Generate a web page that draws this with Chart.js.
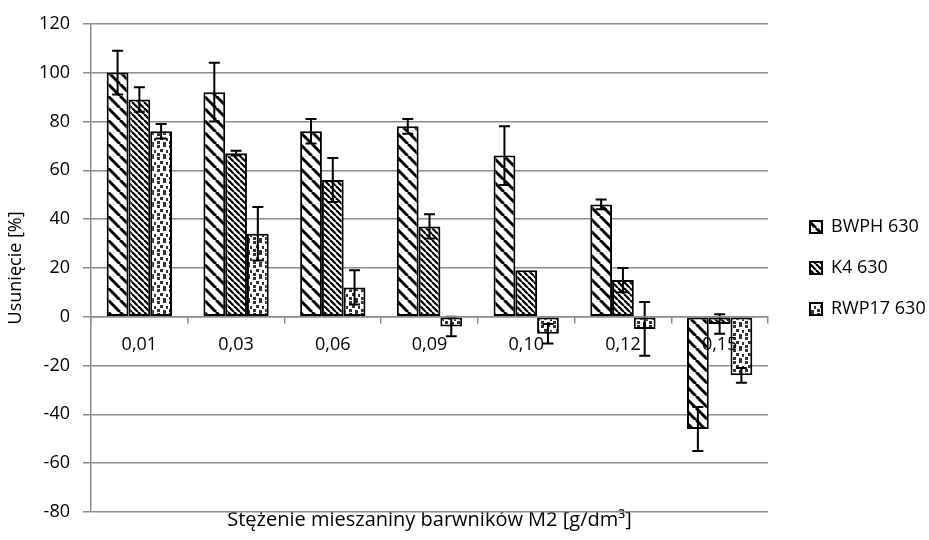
<!DOCTYPE html>
<html>
<head>
<meta charset="utf-8">
<script src="https://cdn.jsdelivr.net/npm/chart.js@4"></script>
<style>
  html, body { margin: 0; padding: 0; background: #fff; }
  #wrap { width: 929px; height: 540px; }
</style>
</head>
<body>
<div id="wrap"><canvas id="chart"></canvas></div>
<script>
// stężenie mieszaniny M2
const categories = ["0,01", "0,03", "0,06", "0,09", "0,10", "0,12", "0,15"];

const bwph = [100, 92, 76, 78, 66, 46, -46];
const bwphErr = [9, 12, 5, 3, 12, 2, 9];

const k4 = [89, 67, 56, 37, 19, 15, -3];
const k4Err = [5, 1, 9, 5, 0, 5, 4];

const rwp17 = [76, 34, 12, -4, -7, -5, -24];
const rwp17Err = [3, 11, 7, 4, 4, 11, 3];

const yMin = -80;
const yMax = 120;
const yStep = 20;

// fill patterns (Excel-like)
function diagonal(size, width) {
  const c = document.createElement("canvas");
  c.width = size;
  c.height = size;
  const g = c.getContext("2d");
  g.fillStyle = "#fff";
  g.fillRect(0, 0, size, size);
  g.strokeStyle = "#000";
  g.lineWidth = width;
  for (const k of [-size, 0, size]) {
    g.beginPath();
    g.moveTo(k, 0);
    g.lineTo(k + size, size);
    g.stroke();
  }
  return g.createPattern(c, "repeat");
}

function confetti() {
  const c = document.createElement("canvas");
  c.width = 12;
  c.height = 12;
  const g = c.getContext("2d");
  g.fillStyle = "#fff";
  g.fillRect(0, 0, 12, 12);
  g.fillStyle = "#333";
  [[1, 1], [7, 0], [4, 5], [10, 6], [1, 9], [7, 10]].forEach(([x, y]) => g.fillRect(x, y, 3, 3));
  return g.createPattern(c, "repeat");
}

const errorBars = {
  id: "errorBars",
  afterDatasetsDraw(chart) {
    const ctx = chart.ctx;
    const y = chart.scales.y;
    ctx.save();
    ctx.strokeStyle = "#000";
    ctx.lineWidth = 2;
    chart.data.datasets.forEach((ds, i) => {
      const meta = chart.getDatasetMeta(i);
      meta.data.forEach((bar, j) => {
        const e = ds.errors[j];
        if (!e) return;
        const v = ds.data[j];
        const top = y.getPixelForValue(v + e);
        const bot = y.getPixelForValue(v - e);
        const x = bar.x;
        ctx.beginPath();
        ctx.moveTo(x, top);
        ctx.lineTo(x, bot);
        ctx.moveTo(x - 5.5, top);
        ctx.lineTo(x + 5.5, top);
        ctx.moveTo(x - 5.5, bot);
        ctx.lineTo(x + 5.5, bot);
        ctx.stroke();
      });
    });
    ctx.restore();
  }
};

Chart.defaults.font.family = "'Open Sans', sans-serif";
Chart.defaults.font.size = 18;
Chart.defaults.color = "#000";

const gridColor = "#8c8c8c";

new Chart(document.getElementById("chart"), {
  type: "bar",
  data: {
    labels: categories,
    datasets: [
      { label: "BWPH 630", data: bwph, errors: bwphErr, backgroundColor: diagonal(12, 3) },
      { label: "K4 630", data: k4, errors: k4Err, backgroundColor: diagonal(6, 2.2) },
      { label: "RWP17 630", data: rwp17, errors: rwp17Err, backgroundColor: confetti() }
    ].map(d => Object.assign(d, {
      borderColor: "#000",
      borderWidth: 2,
      borderSkipped: false,
      categoryPercentage: 0.675,
      barPercentage: 1
    }))
  },
  options: {
    responsive: true,
    maintainAspectRatio: false,
    animation: false,
    layout: { padding: { top: 22, left: 0, right: 0, bottom: 0 } },
    plugins: {
      tooltip: { enabled: false },
      legend: {
        position: "right",
        fullSize: false,
        maxWidth: 142,
        labels: { boxWidth: 12, boxHeight: 12, padding: 23 }
      }
    },
    scales: {
      x: {
        position: { y: 0 },
        offset: true,
        grid: { drawOnChartArea: false, offset: true, tickLength: 6, color: gridColor, lineWidth: 1.5, z: 1 },
        border: { color: gridColor, width: 1.5, z: 1 },
        ticks: { autoSkip: false, maxRotation: 0, padding: 11, z: 1 }
      },
      x2: {
        type: "category",
        position: "bottom",
        grid: { display: false },
        border: { display: false },
        ticks: { display: false },
        title: {
          display: true,
          text: "Stężenie mieszaniny barwników M2 [g/dm³]",
          font: { size: 20 },
          padding: { top: 0, bottom: 8 }
        },
        afterFit(s) { s.height = 28; }
      },
      y: {
        min: yMin,
        max: yMax,
        ticks: { stepSize: yStep, padding: 13 },
        grid: { color: gridColor, lineWidth: 1.5, tickLength: 8 },
        border: { color: gridColor, width: 1.5 },
        title: { display: true, text: "Usunięcie [%]", padding: { top: 5, bottom: 4 } },
        afterFit(s) { s.width = 91; }
      },
      yR: {
        position: "right",
        grid: { display: false },
        border: { display: false },
        ticks: { display: false },
        afterFit(s) { s.width = 19; }
      }
    }
  },
  plugins: [errorBars]
});
</script>
</body>
</html>
